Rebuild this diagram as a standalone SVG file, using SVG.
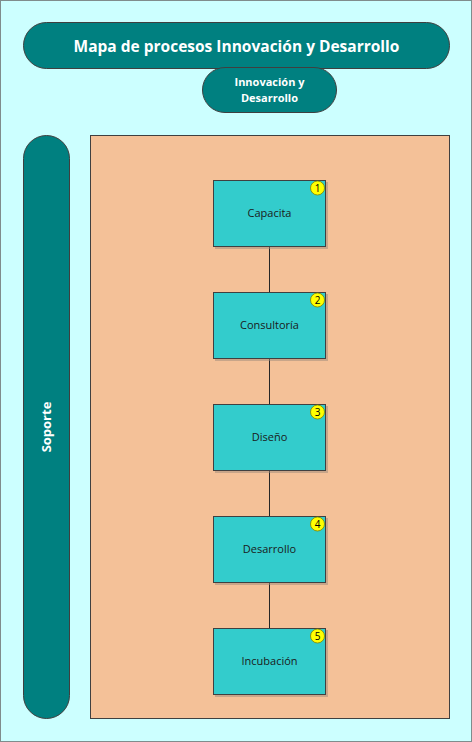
<svg xmlns="http://www.w3.org/2000/svg" width="472" height="742" viewBox="0 0 472 742">
<style>
.pill{fill:#008080;stroke:#3F3F3F;stroke-width:1}
.box{fill:#33CCCC;stroke:#404040;stroke-width:1}
.shadow{fill:#9C8A7A;opacity:0.5}
.badge{fill:#FFFF00;stroke:#808000;stroke-width:0.8}
.btxt{font-family:"Open Sans","Liberation Sans",sans-serif;font-size:10px;fill:#000;text-anchor:middle}
.ntxt{font-family:"Open Sans","Liberation Sans",sans-serif;font-size:11px;fill:#1a1a1a;text-anchor:middle}
.wtxt{font-family:"Open Sans","Liberation Sans",sans-serif;font-weight:bold;fill:#fff;text-anchor:middle}
.conn{stroke:#262626;stroke-width:1;fill:none}
</style>
<rect x="0.5" y="0.5" width="471" height="741" fill="#CCFFFF" stroke="#7F8C8C" stroke-width="1"/>
<g id="title">
<rect class="pill" x="23.5" y="22.5" width="426" height="46" rx="23"/>
<text class="wtxt" x="236.5" y="51.5" font-size="15.5">Mapa de procesos Innovación y Desarrollo</text>
</g>
<g id="subtitle">
<rect class="pill" x="202.5" y="67.5" width="134" height="45" rx="22.5"/>
<text class="wtxt" x="269.5" y="86" font-size="11">Innovación y</text>
<text class="wtxt" x="269.5" y="102" font-size="11">Desarrollo</text>
</g>
<g id="soporte">
<rect class="pill" x="23.5" y="135.5" width="46" height="583" rx="23"/>
<text class="wtxt" x="0" y="0" font-size="13" transform="translate(51,427) rotate(-90)">Soporte</text>
</g>
<g id="area">
<rect x="90.5" y="135.5" width="359" height="583" fill="#F4C198" stroke="#404040" stroke-width="1"/>
</g>
<g id="connectors">
<line class="conn" x1="269.5" y1="247" x2="269.5" y2="292"/>
<line class="conn" x1="269.5" y1="359" x2="269.5" y2="404"/>
<line class="conn" x1="269.5" y1="471" x2="269.5" y2="516"/>
<line class="conn" x1="269.5" y1="583" x2="269.5" y2="628"/>
</g>
<g id="n1">
<rect class="shadow" x="215" y="182" width="113" height="67"/>
<rect class="box" x="213.5" y="180.5" width="112" height="66"/>
<circle class="badge" cx="317.5" cy="188" r="7"/>
<text class="btxt" x="317.5" y="191.5">1</text>
<text class="ntxt" x="269.5" y="217">Capacita</text>
</g>
<g id="n2">
<rect class="shadow" x="215" y="294" width="113" height="67"/>
<rect class="box" x="213.5" y="292.5" width="112" height="66"/>
<circle class="badge" cx="317.5" cy="300" r="7"/>
<text class="btxt" x="317.5" y="303.5">2</text>
<text class="ntxt" x="269.5" y="329">Consultoría</text>
</g>
<g id="n3">
<rect class="shadow" x="215" y="406" width="113" height="67"/>
<rect class="box" x="213.5" y="404.5" width="112" height="66"/>
<circle class="badge" cx="317.5" cy="412" r="7" fill="#FFFF99"/>
<text class="btxt" x="317.5" y="415.5">3</text>
<text class="ntxt" x="269.5" y="441">Diseño</text>
</g>
<g id="n4">
<rect class="shadow" x="215" y="518" width="113" height="67"/>
<rect class="box" x="213.5" y="516.5" width="112" height="66"/>
<circle class="badge" cx="317.5" cy="524" r="7"/>
<text class="btxt" x="317.5" y="527.5">4</text>
<text class="ntxt" x="269.5" y="553">Desarrollo</text>
</g>
<g id="n5">
<rect class="shadow" x="215" y="630" width="113" height="67"/>
<rect class="box" x="213.5" y="628.5" width="112" height="66"/>
<circle class="badge" cx="317.5" cy="636" r="7"/>
<text class="btxt" x="317.5" y="639.5">5</text>
<text class="ntxt" x="269.5" y="665">Incubación</text>
</g>
</svg>
